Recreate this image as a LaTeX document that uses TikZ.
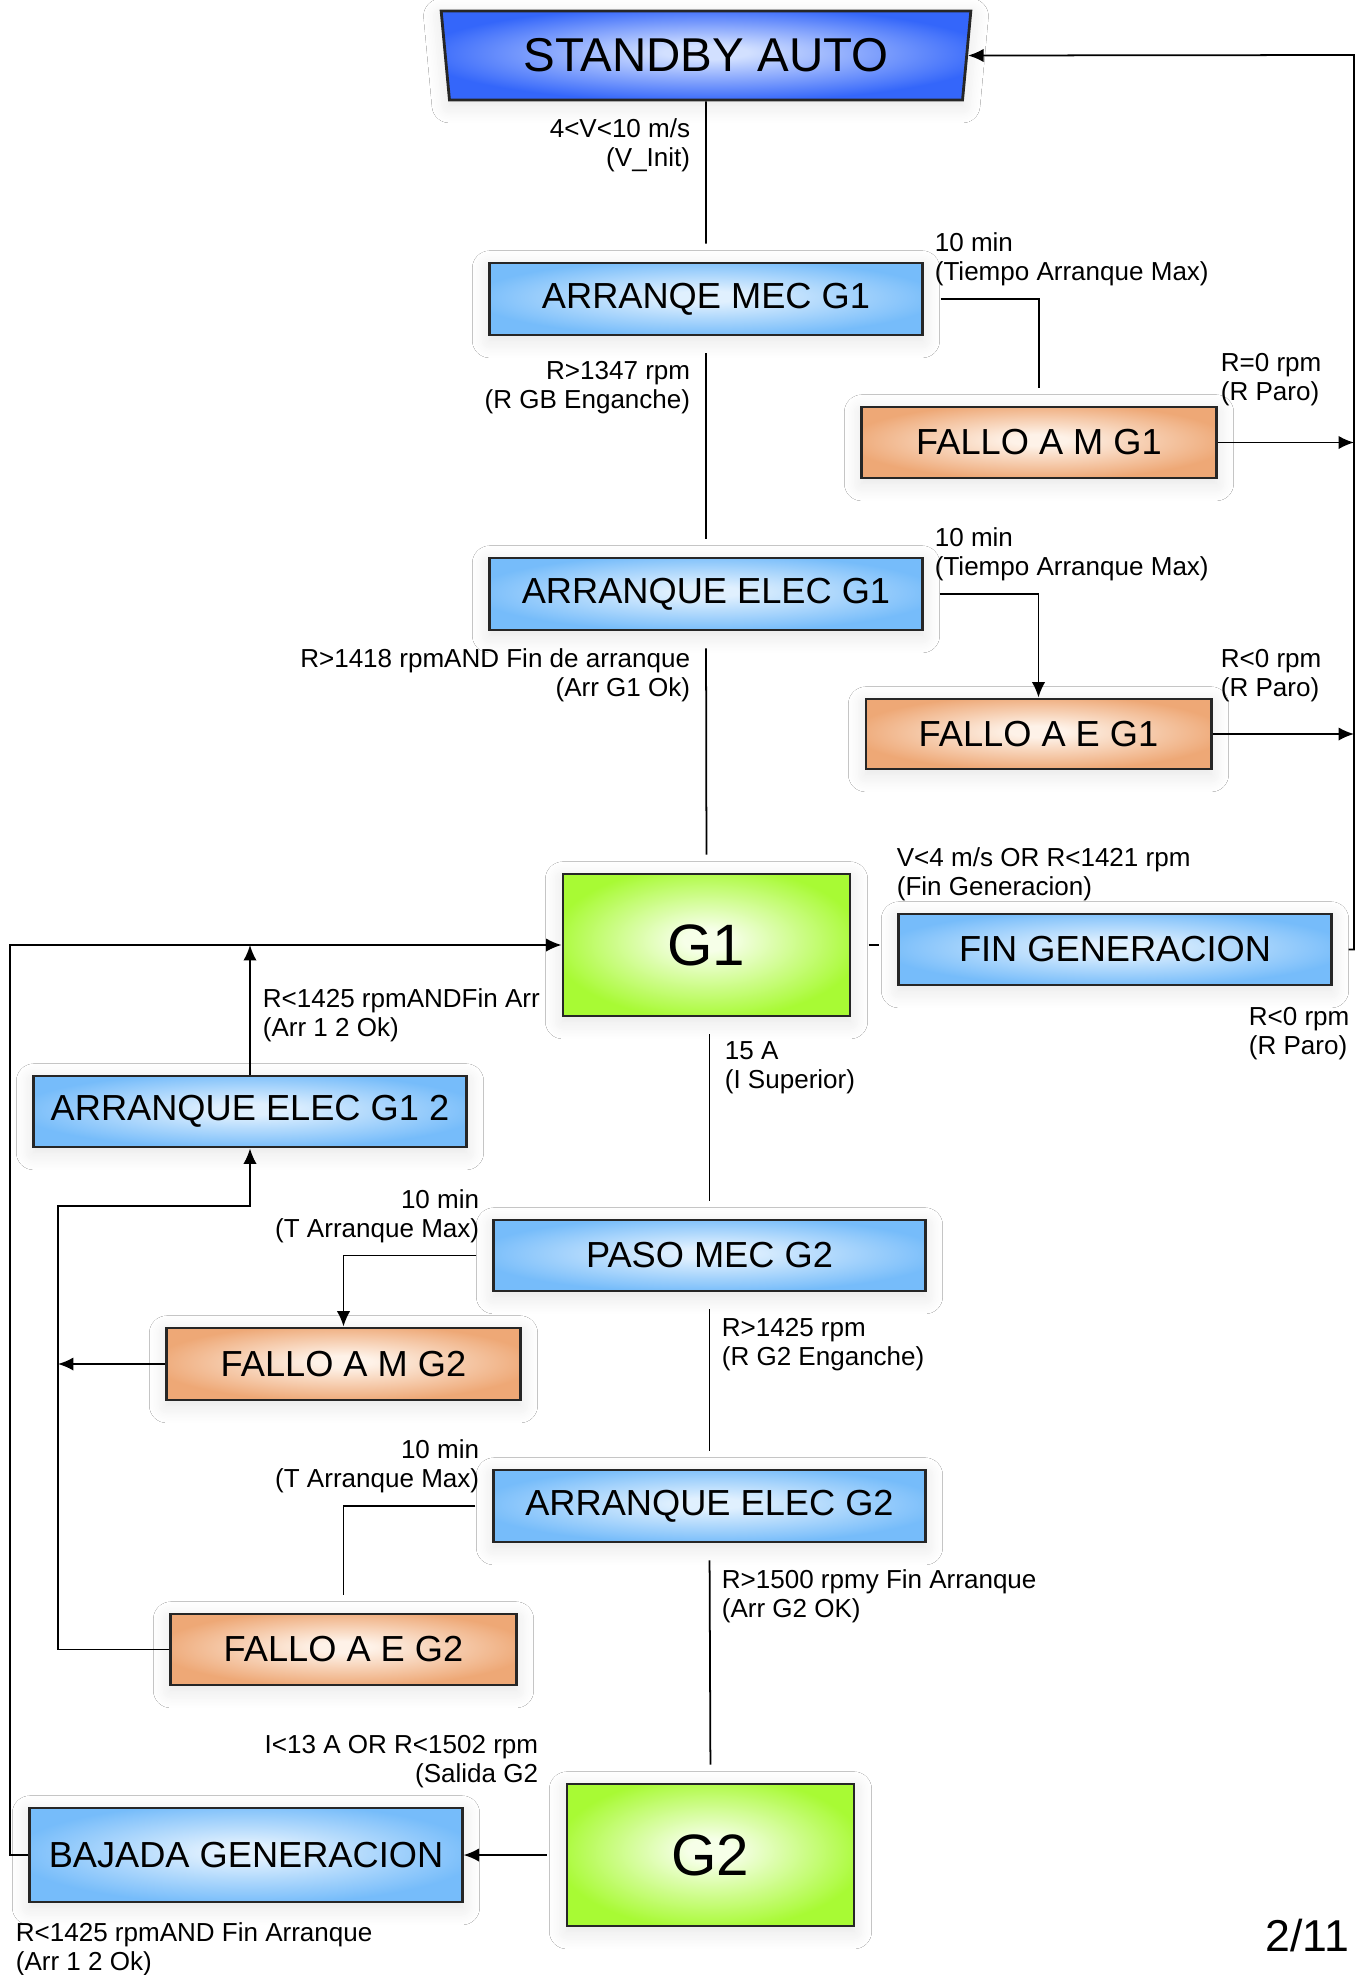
\documentclass[tikz,border=0pt]{standalone}
\usepackage{fontspec}
\setmainfont{Liberation Sans}
\usetikzlibrary{shapes.geometric,shadows.blur,arrows.meta}

\definecolor{azulA}{RGB}{224,240,254}
\definecolor{azulB}{RGB}{118,188,250}
\definecolor{naranjaA}{RGB}{254,242,232}
\definecolor{naranjaB}{RGB}{238,168,118}
\definecolor{verdeA}{RGB}{246,255,232}
\definecolor{verdeB}{RGB}{168,250,52}
\definecolor{standA}{RGB}{210,224,255}
\definecolor{standB}{RGB}{52,102,250}

\pgfdeclareradialshading{glowazul}{\pgfpoint{0bp}{2bp}}{color(0bp)=(azulA); color(4bp)=(azulA); color(27bp)=(azulB); color(50bp)=(azulB)}
\pgfdeclareradialshading{glownaranja}{\pgfpoint{0bp}{2bp}}{color(0bp)=(naranjaA); color(4bp)=(naranjaA); color(27bp)=(naranjaB); color(50bp)=(naranjaB)}
\pgfdeclareradialshading{glowverde}{\pgfpoint{0bp}{2bp}}{color(0bp)=(verdeA); color(4bp)=(verdeA); color(27bp)=(verdeB); color(50bp)=(verdeB)}
\pgfdeclareradialshading{glowstand}{\pgfpoint{0bp}{2bp}}{color(0bp)=(standA); color(4bp)=(standA); color(27bp)=(standB); color(50bp)=(standB)}

\begin{document}
\begin{tikzpicture}[x=0.01cm, y=-0.01cm, line width=0.5pt, >={Latex[length=4.4pt,width=3.8pt]},
  caja/.style={draw=black!85, line width=0.8pt, inner sep=0pt, shade,
    blur shadow={shadow xshift=0pt, shadow yshift=-1.5pt, shadow blur radius=5pt,
      shadow blur steps=12, shadow opacity=11},
    font=\fontsize{10.3}{12}\selectfont},
  estado/.style={caja, shading=glowazul, minimum width=4.32cm, minimum height=0.72cm},
  fallo/.style={caja, shading=glownaranja, minimum height=0.71cm},
  gen/.style={caja, shading=glowverde, minimum width=2.87cm, minimum height=1.42cm, font=\fontsize{16.6}{19}\selectfont},
  lbl/.style={inner sep=0pt, font=\fontsize{7.4}{8.25}\selectfont},
  gap/.style={shorten <=0.17cm, shorten >=0.18cm}]

\path[use as bounding box, fill=white] (0,0) rectangle (1366,1975);

% cabecera
\node[caja, shading=glowstand, trapezium, shape border rotate=180, trapezium angle=80,
  trapezium stretches=true, minimum width=5.3cm, minimum height=0.89cm,
  font=\fontsize{13.5}{15}\selectfont] (standby) at (706,55.5) {STANDBY AUTO};

\node[estado] (mecg1) at (706,299) {ARRANQE MEC G1};
\node[estado] (elecg1) at (706,594) {ARRANQUE ELEC G1};
\node[fallo, minimum width=3.54cm] (famg1) at (1039,442.5) {FALLO A M G1};
\node[fallo, minimum width=3.45cm, minimum height=0.70cm] (faeg1) at (1038.5,734) {FALLO A E G1};
\node[gen] (g1) at (706.5,945) {G1};
\node[estado, minimum height=0.71cm] (fingen) at (1115,949.5) {FIN GENERACION};
\node[estado, minimum height=0.71cm] (aeg12) at (250,1111.5) {ARRANQUE ELEC G1 2};
\node[estado, minimum width=4.31cm, minimum height=0.71cm] (paso) at (709.5,1255.5) {PASO MEC G2};
\node[fallo, minimum width=3.53cm, minimum height=0.72cm] (famg2) at (343.5,1364) {FALLO A M G2};
\node[estado, minimum width=4.31cm] (elecg2) at (709.5,1506) {ARRANQUE ELEC G2};
\node[fallo, minimum width=3.45cm] (faeg2) at (343.5,1649.5) {FALLO A E G2};
\node[gen] (g2) at (710.5,1855) {G2};
\node[estado, minimum height=0.94cm] (bajada) at (246,1855) {BAJADA GENERACION};

\coordinate (rail) at (1354,55);
\coordinate (lazo) at (10,0);
\coordinate (lazoin) at (58,1206);

% cadena principal
\draw[shorten >=0.18cm] (standby.south) -- (mecg1.north);
\draw[gap] (mecg1.south) -- (elecg1.north);
\draw[gap] (elecg1.south) -- (g1.north);
\draw[gap] (g1.south -| paso.north) -- (paso.north);
\draw[gap] (paso.south) -- (elecg2.north);
\draw[gap] (elecg2.south) -- (g2.north);
\draw[gap] (g1.east) -- (g1.east -| fingen.west);
\draw[->, shorten <=0.19cm] (g2.west) -- (bajada.east);

% fallos G1 y vuelta a standby
\draw[gap] (mecg1.east) -| (famg1.north);
\draw[->, shorten <=0.16cm] (elecg1.east) -| (faeg1.north);
\draw[->] (famg1.east) -- (famg1.east -| rail);
\draw[->] (faeg1.east) -- (faeg1.east -| rail);
\draw[->, shorten <=0.16cm] (fingen.east) -| (rail) -- (standby.east);

% lazos de la izquierda
\draw[->] (bajada.west) -- (bajada.west -| lazo) |- (g1.west);
\draw[->] (aeg12.north) -- (aeg12.north |- g1.west);
\draw[->, shorten <=0.16cm] (paso.west) -| (famg2.north);
\draw[gap] (elecg2.west) -| (faeg2.north);
\draw[->] (famg2.west) -- (famg2.west -| lazoin);
\draw[->] (faeg2.west) -| (lazoin) -| (aeg12.south);

% condiciones
\node[lbl, align=right, anchor=east] (c1) at (691,145) {4<V<10 m/s\\(V\_Init)};
\node[lbl, align=left, anchor=west] (c2) at (934,259) {10 min\\(Tiempo Arranque Max)};
\node[lbl, align=right, anchor=east] (c3) at (691,388) {R>1347 rpm\\(R GB Enganche)};
\node[lbl, align=left, anchor=west] (c4) at (1220,380) {R=0 rpm\\(R Paro)};
\node[lbl, align=left, anchor=west] (c5) at (934,554) {10 min\\(Tiempo Arranque Max)};
\node[lbl, align=right, anchor=east] (c6) at (691,675) {R>1418 rpmAND Fin de arranque\\(Arr G1 Ok)};
\node[lbl, align=left, anchor=west] (c7) at (1220,676) {R<0 rpm\\(R Paro)};
\node[lbl, align=left, anchor=west] (c8) at (896,874) {V<4 m/s OR R<1421 rpm\\(Fin Generacion)};
\node[lbl, align=left, anchor=west] (c9) at (262,1015) {R<1425 rpmANDFin Arr\\(Arr 1 2 Ok)};
\node[lbl, align=left, anchor=west] (c10) at (1248,1034) {R<0 rpm\\(R Paro)};
\node[lbl, align=left, anchor=west] (c11) at (724,1068) {15 A\\(I Superior)};
\node[lbl, align=right, anchor=east] (c12) at (480,1216) {10 min\\(T Arranque Max)};
\node[lbl, align=left, anchor=west] (c13) at (721,1345) {R>1425 rpm\\(R G2 Enganche)};
\node[lbl, align=right, anchor=east] (c14) at (480,1466) {10 min\\(T Arranque Max)};
\node[lbl, align=left, anchor=west] (c15) at (721,1596) {R>1500 rpmy Fin Arranque\\(Arr G2 OK)};
\node[lbl, align=right, anchor=east] (c16) at (539,1762) {I<13 A OR R<1502 rpm\\(Salida G2};
\node[lbl, align=left, anchor=west] (c17) at (15,1949) {R<1425 rpmAND Fin Arranque\\(Arr 1 2 Ok)};

\node[inner sep=0pt, anchor=east, font=\fontsize{12.7}{14}\selectfont] (pag) at (1350,1936) {2/11};
\end{tikzpicture}
\end{document}
